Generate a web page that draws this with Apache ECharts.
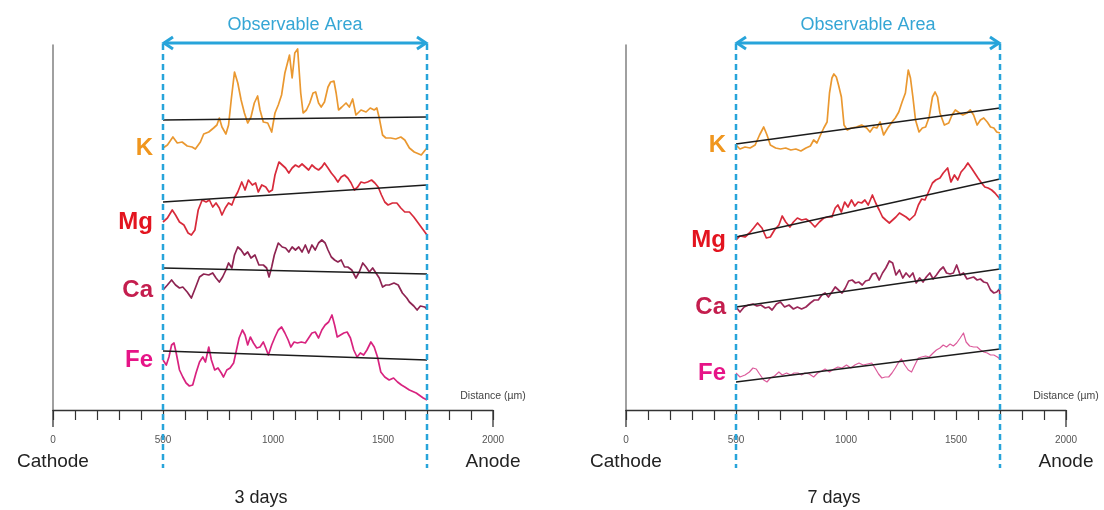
<!DOCTYPE html>
<html>
<head>
<meta charset="utf-8">
<script src="https://cdn.jsdelivr.net/npm/echarts@6/dist/echarts.min.js"></script>
<style>
  html, body { margin: 0; padding: 0; background: #ffffff; }
  #chart { width: 1104px; height: 510px; }
</style>
</head>
<body>
<div id="chart"></div>
<script>
// Element line profiles across the specimen (distance in µm, intensity in arbitrary units,
// each element stacked with its own baseline offset).
const elements = ['K', 'Mg', 'Ca', 'Fe'];
const labelColors = ['#F0961E', '#E3141F', '#C41E4E', '#E61487'];
const lineColors3 = ['#EA9830', '#D82B3B', '#8E2452', '#D8237F'];
const lineColors7 = ['#EA9830', '#D82B3B', '#9A2858', '#DC5C9C'];
const observeRange = [500, 1700];
const xTicks = [0, 500, 1000, 1500, 2000];
const panelTitles = ['3 days', '7 days'];

// ---- 3 days ----
const d3K = [[500,262],[520,265],[545,273],[565,267],[587,268],[610,264],[632,263],[647,261],[670,268],[685,276],[708,278],[730,282],[745,285],[756,292],[768,283],[786,276],[798,285],[810,310],[825,338],[840,327],[855,310],[870,297],[885,287],[900,293],[915,307],[930,314],[941,300],[956,288],[976,287],[994,278],[1009,297],[1024,305],[1039,315],[1054,337],[1075,355],[1087,332],[1099,357],[1112,361],[1126,317],[1137,297],[1152,300],[1167,307],[1182,317],[1194,318],[1207,307],[1219,303],[1234,308],[1250,323],[1262,328],[1277,329],[1287,317],[1298,300],[1313,303],[1332,307],[1347,303],[1362,311],[1377,295],[1400,300],[1423,298],[1442,302],[1460,300],[1472,302],[1483,292],[1498,275],[1513,272],[1535,272],[1558,271],[1581,273],[1599,270],[1620,262],[1642,258],[1674,255],[1692,260],[1700,262]];
const d3Mg = [[500,188],[520,192],[542,200],[557,195],[575,188],[595,185],[614,177],[629,175],[645,180],[660,200],[678,210],[696,208],[711,210],[726,203],[741,207],[756,202],[768,195],[783,202],[798,207],[813,205],[825,212],[840,218],[858,228],[873,220],[888,230],[906,225],[921,227],[933,218],[949,225],[967,223],[982,218],[997,220],[1009,235],[1027,248],[1042,245],[1057,242],[1072,237],[1087,242],[1102,245],[1117,243],[1132,246],[1147,243],[1162,240],[1177,245],[1192,242],[1207,240],[1222,243],[1234,247],[1250,242],[1265,237],[1280,233],[1295,228],[1310,233],[1325,235],[1340,232],[1355,227],[1370,220],[1385,223],[1400,228],[1415,227],[1430,228],[1448,230],[1463,227],[1478,223],[1493,215],[1508,208],[1523,205],[1543,207],[1563,207],[1581,202],[1599,198],[1620,198],[1640,193],[1660,187],[1680,181],[1700,175]];
const d3Ca = [[500,120],[520,125],[539,130],[557,125],[575,122],[590,123],[610,118],[629,112],[647,122],[666,133],[685,136],[708,135],[726,137],[741,132],[756,128],[771,133],[786,140],[798,147],[813,142],[825,155],[840,163],[855,160],[870,155],[885,158],[900,152],[918,155],[936,145],[956,145],[971,142],[982,133],[994,143],[1006,155],[1024,167],[1042,163],[1057,162],[1072,158],[1087,163],[1102,160],[1117,163],[1132,158],[1147,165],[1162,157],[1177,165],[1192,160],[1207,167],[1222,170],[1237,167],[1250,160],[1265,153],[1280,150],[1295,148],[1310,150],[1325,143],[1340,143],[1358,140],[1377,132],[1392,138],[1408,147],[1423,143],[1438,138],[1453,142],[1468,137],[1483,132],[1498,123],[1513,125],[1528,125],[1550,127],[1569,125],[1588,117],[1608,112],[1620,108],[1640,104],[1655,100],[1670,104],[1690,103],[1700,101]];
const d3Fe = [[500,50],[515,45],[527,53],[539,65],[550,67],[560,57],[575,40],[590,33],[605,27],[620,24],[635,25],[650,37],[666,48],[681,53],[693,48],[708,63],[720,50],[735,40],[750,42],[765,37],[775,33],[790,40],[805,42],[821,47],[831,57],[846,72],[861,80],[873,75],[885,65],[897,73],[911,67],[926,62],[941,63],[956,68],[967,62],[979,55],[994,65],[1009,73],[1024,80],[1039,83],[1054,77],[1069,70],[1081,63],[1096,68],[1111,67],[1129,68],[1147,67],[1162,72],[1177,77],[1192,78],[1207,72],[1222,80],[1237,85],[1253,88],[1268,95],[1280,85],[1292,73],[1307,75],[1322,77],[1337,78],[1352,72],[1367,60],[1382,53],[1397,57],[1412,55],[1427,60],[1445,68],[1460,63],[1475,53],[1490,38],[1508,33],[1528,30],[1548,32],[1566,28],[1584,25],[1599,23],[1620,20],[1651,17],[1683,12],[1700,10]];
// linear fits at the two ends of the observable range
const t3K = [290, 293];
const t3Mg = [208, 225];
const t3Ca = [142, 136];
const t3Fe = [59, 50];

// ---- 7 days ----
const d7K = [[500,265],[518,261],[541,263],[564,262],[587,265],[607,275],[626,283],[641,275],[656,265],[680,262],[702,261],[726,262],[749,260],[772,261],[795,259],[818,262],[838,264],[853,270],[868,267],[884,275],[899,282],[914,288],[925,317],[936,332],[945,336],[956,333],[966,325],[979,313],[991,285],[1006,280],[1025,282],[1048,283],[1071,285],[1094,282],[1109,278],[1125,283],[1140,282],[1155,288],[1171,275],[1190,282],[1209,288],[1224,292],[1240,298],[1255,308],[1270,317],[1283,340],[1293,332],[1304,313],[1316,290],[1332,278],[1347,282],[1362,283],[1378,293],[1393,313],[1405,318],[1416,313],[1427,297],[1447,285],[1467,287],[1482,295],[1497,300],[1516,297],[1531,295],[1550,297],[1565,300],[1580,295],[1596,285],[1611,290],[1626,292],[1642,288],[1657,283],[1672,282],[1685,278],[1700,277]];
const d7Mg = [[500,170],[518,174],[541,173],[561,177],[580,182],[598,187],[618,182],[638,172],[656,173],[675,180],[695,185],[710,194],[726,188],[745,183],[761,188],[779,192],[798,190],[818,191],[838,188],[859,183],[879,188],[899,192],[917,193],[936,193],[951,202],[963,205],[979,198],[994,208],[1009,203],[1025,210],[1040,204],[1055,208],[1071,207],[1086,210],[1101,205],[1120,215],[1135,207],[1151,200],[1166,193],[1181,190],[1197,187],[1212,190],[1227,193],[1243,197],[1258,195],[1273,193],[1289,190],[1298,188],[1313,195],[1329,205],[1344,211],[1359,210],[1375,218],[1393,227],[1408,230],[1427,232],[1442,237],[1462,242],[1477,228],[1493,235],[1508,230],[1523,238],[1539,242],[1554,247],[1570,242],[1585,237],[1600,232],[1616,227],[1631,223],[1646,222],[1662,220],[1677,217],[1700,211]];
const d7Ca = [[500,103],[518,98],[537,103],[557,105],[577,106],[595,104],[613,105],[633,102],[649,103],[664,100],[684,106],[702,108],[721,103],[741,105],[761,101],[779,103],[798,101],[818,103],[838,107],[856,110],[874,110],[890,115],[905,117],[920,113],[936,118],[951,123],[966,120],[982,117],[997,122],[1012,129],[1028,130],[1043,127],[1058,128],[1074,125],[1089,129],[1105,130],[1120,136],[1135,137],[1151,130],[1166,137],[1181,142],[1197,149],[1212,147],[1227,135],[1243,140],[1258,132],[1273,137],[1289,133],[1304,137],[1319,127],[1335,132],[1350,128],[1365,133],[1381,137],[1396,131],[1411,135],[1427,140],[1442,143],[1457,137],[1473,136],[1488,137],[1503,145],[1519,135],[1534,137],[1550,131],[1565,132],[1580,133],[1596,130],[1611,131],[1626,128],[1642,127],[1657,120],[1672,117],[1685,118],[1697,121],[1700,113]];
const d7Fe = [[500,37],[518,33],[541,35],[561,38],[577,42],[592,41],[607,36],[626,30],[641,28],[656,32],[675,34],[695,38],[710,35],[730,37],[749,35],[764,37],[782,37],[798,35],[813,37],[833,36],[853,33],[871,37],[890,39],[905,41],[925,38],[945,41],[963,43],[982,42],[1002,45],[1022,42],[1040,45],[1059,47],[1078,45],[1098,46],[1117,47],[1132,42],[1148,36],[1163,32],[1178,33],[1194,33],[1209,37],[1224,42],[1240,48],[1252,51],[1267,45],[1283,40],[1298,38],[1313,45],[1329,52],[1344,53],[1362,54],[1378,53],[1396,57],[1411,60],[1427,62],[1442,65],[1457,63],[1473,66],[1488,64],[1503,67],[1519,72],[1534,77],[1546,68],[1562,64],[1580,63],[1596,63],[1611,60],[1626,58],[1642,57],[1657,55],[1672,55],[1688,53],[1700,51]];
const t7K = [266, 302];
const t7Mg = [173, 231];
const t7Ca = [103, 141];
const t7Fe = [28, 61];

const panels = [
  { profiles: [d3K, d3Mg, d3Ca, d3Fe], trends: [t3K, t3Mg, t3Ca, t3Fe], colors: lineColors3, left: 53 },
  { profiles: [d7K, d7Mg, d7Ca, d7Fe], trends: [t7K, t7Mg, t7Ca, t7Fe], colors: lineColors7, left: 626 }
];

const FONT = '"Liberation Sans", Arial, sans-serif';
const chart = echarts.init(document.getElementById('chart'), null, { renderer: 'canvas' });

const grids = [], xAxes = [], yAxes = [], series = [];
panels.forEach((p, i) => {
  grids.push({ left: p.left, width: 440, top: 45, height: 365 });
  xAxes.push({
    type: 'value', gridIndex: i, min: 0, max: 2000, interval: 500,
    name: 'Distance (\u00b5m)', nameLocation: 'end', nameGap: 0,
    nameTextStyle: { fontSize: 10.5, color: '#444', fontFamily: FONT, align: 'center', verticalAlign: 'bottom', padding: [0, 0, 8, 0] },
    axisLine: { show: true, onZero: false, lineStyle: { color: '#333', width: 1.3 } },
    axisTick: { show: true, length: 10, lineStyle: { color: '#333', width: 1.2 } },
    minorTick: { show: true, splitNumber: 5, length: 10, lineStyle: { color: '#333', width: 1.2 } },
    splitLine: { show: false },
    axisLabel: {
      margin: 23,
      formatter: v => v === 0 ? '{n|0}\n{e|Cathode}' : v === 2000 ? '{n|2000}\n{e|Anode}' : '{n|' + v + '}',
      rich: {
        n: { fontSize: 10, color: '#555', lineHeight: 14, fontFamily: '"Liberation Sans Narrow", "Liberation Sans", sans-serif' },
        e: { fontSize: 19, color: '#222', lineHeight: 30, fontFamily: FONT }
      }
    }
  });
  yAxes.push({
    type: 'value', gridIndex: i, min: 0, max: 365,
    axisLine: { show: true, lineStyle: { color: '#808080', width: 1.5 } },
    axisTick: { show: false }, axisLabel: { show: false }, splitLine: { show: false }
  });
  p.profiles.forEach((data, k) => {
    series.push({
      type: 'line', name: elements[k], xAxisIndex: i, yAxisIndex: i, data: data,
      symbol: 'none', smooth: false, z: 2,
      lineStyle: { color: p.colors[k], width: (i === 1 && k === 3) ? 1.2 : 1.7, join: 'round' },
      markPoint: {
        symbol: 'circle', symbolSize: 0,
        data: [{ coord: data[0] }],
        label: {
          show: true, position: 'left', distance: 10, formatter: elements[k],
          fontSize: 24, fontWeight: 'bold', color: labelColors[k], fontFamily: FONT
        }
      }
    });
    series.push({
      type: 'line', xAxisIndex: i, yAxisIndex: i, symbol: 'none', z: 3,
      data: [[observeRange[0], p.trends[k][0]], [observeRange[1], p.trends[k][1]]],
      lineStyle: { color: '#1c1c1c', width: 1.3 }
    });
  });
});

chart.setOption({
  animation: false,
  backgroundColor: '#ffffff',
  grid: grids, xAxis: xAxes, yAxis: yAxes, series: series
});

// Observable range markers, arrows and captions placed through the axis scales
const cyan = '#27A4DA';
const graphics = [];
panels.forEach((p, i) => {
  const xa = chart.convertToPixel({ xAxisIndex: i }, observeRange[0]);
  const xb = chart.convertToPixel({ xAxisIndex: i }, observeRange[1]);
  const x0 = chart.convertToPixel({ xAxisIndex: i }, 0);
  const x2 = chart.convertToPixel({ xAxisIndex: i }, 2000);
  const yBase = chart.convertToPixel({ yAxisIndex: i }, 0);
  [xa, xb].forEach(x => graphics.push({
    type: 'line', z: 10, shape: { x1: x, y1: 44, x2: x, y2: yBase + 58 },
    style: { stroke: cyan, lineWidth: 2.5, lineDash: [6, 4] }
  }));
  const ay = 43;
  graphics.push({ type: 'line', z: 11, shape: { x1: xa + 1, y1: ay, x2: xb - 1, y2: ay }, style: { stroke: cyan, lineWidth: 3 } });
  graphics.push({ type: 'polyline', z: 11, shape: { points: [[xa + 10, ay - 6], [xa + 1, ay], [xa + 10, ay + 6]] }, style: { stroke: cyan, lineWidth: 3, fill: null } });
  graphics.push({ type: 'polyline', z: 11, shape: { points: [[xb - 10, ay - 6], [xb - 1, ay], [xb - 10, ay + 6]] }, style: { stroke: cyan, lineWidth: 3, fill: null } });
  graphics.push({
    type: 'text', z: 11, x: (xa + xb) / 2, y: 25,
    style: { text: 'Observable Area', fill: '#35A6D5', fontSize: 18, fontFamily: FONT, textAlign: 'center', textVerticalAlign: 'middle' }
  });
  // longer end ticks of the distance scale
  [x0, x2].forEach(x => graphics.push({
    type: 'line', z: 5, shape: { x1: x, y1: yBase, x2: x, y2: yBase + 17 }, style: { stroke: '#333', lineWidth: 1.3 }
  }));
  graphics.push({
    type: 'text', z: 11, x: (x0 + x2) / 2 - 12, y: 498,
    style: { text: panelTitles[i], fill: '#222', fontSize: 18, fontFamily: FONT, textAlign: 'center', textVerticalAlign: 'middle' }
  });
});
chart.setOption({ graphic: graphics });
</script>
</body>
</html>
